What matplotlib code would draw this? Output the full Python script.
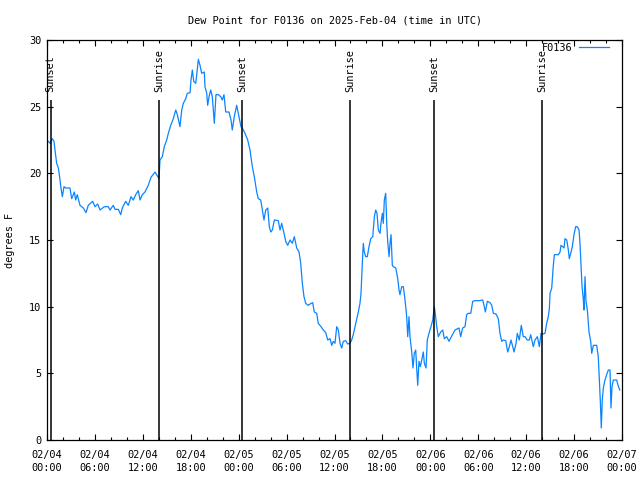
import matplotlib
matplotlib.use("Agg")
import matplotlib.pyplot as plt
from matplotlib.ticker import MultipleLocator

plt.rcParams['font.family'] = ['DejaVu Sans Mono']
plt.rcParams['font.size'] = 7.4

# hours since 2025-02-04 00:00 UTC
hours = [0.16, 0.38, 0.66, 0.88, 1.00, 1.21, 1.42, 1.63, 1.75, 1.92, 2.13, 2.34, 2.88, 3.09, 3.42,
         3.59, 3.79, 4.01, 4.13, 4.55, 4.88, 5.17, 5.72, 6.01, 6.35, 6.64, 7.18, 7.68, 7.89, 8.30,
         8.52, 8.93, 9.23, 9.43, 9.85, 10.18, 10.52, 10.81, 11.11, 11.43, 11.65, 11.93, 12.27, 12.68,
         13.02, 13.52, 13.86, 14.02, 14.15, 14.44, 14.69, 14.99, 15.19, 15.49, 15.82, 16.12, 16.32,
         16.65, 16.87, 17.07, 17.37, 17.57, 17.91, 18.03, 18.20, 18.37, 18.62, 18.75, 18.95, 19.16,
         19.37, 19.70, 19.78, 20.00, 20.12, 20.29, 20.50, 20.70, 20.95, 21.16, 21.45, 21.75, 21.95,
         22.16, 22.38, 22.79, 23.04, 23.20, 23.45, 23.75, 24.04, 24.29, 24.46, 24.79, 25.13, 25.42,
         25.71, 25.96, 26.26, 26.46, 26.76, 26.96, 27.17, 27.39, 27.64, 27.84, 28.02, 28.22, 28.47,
         28.96, 29.18, 29.39, 29.68, 29.89, 30.14, 30.43, 30.72, 30.97, 31.27, 31.56, 31.77, 31.97,
         32.18, 32.39, 32.72, 33.06, 33.27, 33.47, 33.77, 33.97, 34.31, 34.60, 34.90, 35.15, 35.44,
         35.65, 35.85, 36.06, 36.28, 36.48, 36.69, 36.90, 37.10, 37.40, 37.65, 37.94, 38.15, 38.35,
         38.57, 38.78, 38.98, 39.19, 39.32, 39.41, 39.53, 39.61, 39.73, 39.91, 40.11, 40.32, 40.54,
         40.79, 40.99, 41.16, 41.32, 41.49, 41.70, 41.82, 41.99, 42.11, 42.24, 42.41, 42.54, 42.66,
         42.83, 42.95, 43.08, 43.24, 43.37, 43.67, 43.92, 44.08, 44.20, 44.42, 44.62, 44.83, 45.04,
         45.17, 45.33, 45.45, 45.67, 45.83, 45.99, 46.17, 46.29, 46.42, 46.58, 46.75, 46.92, 47.12,
         47.25, 47.46, 47.62, 47.83, 48.08, 48.30, 48.50, 48.62, 48.80, 49.00, 49.30, 49.55, 49.75,
         50.05, 50.34, 50.68, 51.09, 51.59, 51.80, 52.05, 52.34, 52.55, 52.75, 53.06, 53.31, 53.59,
         54.13, 54.56, 54.72, 54.89, 55.14, 55.47, 55.69, 55.89, 56.22, 56.51, 56.72, 56.94, 57.14,
         57.44, 57.69, 57.89, 58.10, 58.32, 58.48, 58.73, 58.89, 59.14, 59.39, 59.64, 59.85, 60.14,
         60.39, 60.57, 60.89, 61.11, 61.40, 61.65, 61.86, 62.15, 62.36, 62.57, 62.77, 62.90, 62.99,
         63.20, 63.40, 63.53, 64.03, 64.24, 64.36, 64.57, 64.74, 64.86, 65.08, 65.28, 65.40, 65.58,
         65.78, 65.99, 66.20, 66.40, 66.62, 66.74, 66.87, 66.99, 67.16, 67.24, 67.37, 67.49, 67.66,
         67.87, 68.08, 68.21, 68.41, 68.83, 69.03, 69.16, 69.28, 69.41, 69.53, 69.66, 69.87, 70.08,
         70.29, 70.50, 70.62, 70.75, 70.91, 71.34, 71.50, 71.72]

dew_f = [22.4, 22.25, 22.6, 22.4, 21.75, 20.75, 20.4, 19.5, 18.9, 18.25, 19.0, 18.9, 18.9, 18.1, 18.6,
         18.0, 18.4, 17.9, 17.6, 17.4, 17.05, 17.6, 17.9, 17.5, 17.7, 17.25, 17.5, 17.5, 17.25, 17.6,
         17.3, 17.3, 16.9, 17.4, 17.9, 17.6, 18.25, 18.0, 18.4, 18.7, 18.0, 18.4, 18.6, 19.1,
         19.7, 20.1, 19.75, 19.6, 21.0, 21.25, 22.0, 22.5, 23.0, 23.6, 24.1, 24.75, 24.4,
         23.5, 24.75, 25.25, 25.6, 26.0, 26.05, 27.0, 27.75, 26.9, 26.75, 27.4, 28.55, 28.1,
         27.5, 27.6, 26.5, 26.0, 25.1, 25.75, 26.25, 25.75, 23.75, 25.9, 25.9, 25.75, 25.5,
         25.9, 24.6, 24.6, 24.0, 23.25, 24.25, 25.1, 24.25, 23.5, 23.4, 23.0, 22.5, 21.75,
         20.5, 19.75, 18.6, 18.1, 18.0, 17.25, 16.5, 17.25, 17.4, 16.0, 15.6, 15.75, 16.5,
         16.45, 15.75, 16.25, 15.5, 14.9, 14.6, 15.0, 14.75, 15.25, 14.4, 14.1, 13.25, 11.75,
         10.75, 10.25, 10.1, 10.25, 10.3, 9.6, 9.5, 8.75, 8.5, 8.25, 8.05, 7.5, 7.6,
         7.1, 7.4, 7.25, 8.5, 8.25, 7.25, 6.9, 7.4, 7.45, 7.2, 7.25, 7.5, 7.9,
         8.5, 9.1, 9.6, 10.25, 11.0, 12.25, 13.9, 14.75, 14.1, 13.75, 13.75, 14.5, 15.1,
         15.25, 16.75, 17.25, 17.0, 15.75, 15.5, 16.25, 17.0, 16.25, 18.0, 18.5, 16.25, 14.9,
         13.75, 14.75, 15.4, 13.1, 13.0, 12.9, 12.1, 11.25, 10.9, 11.5, 11.5, 10.5, 9.25,
         7.75, 9.25, 7.75, 6.6, 5.4, 6.5, 6.75, 5.4, 4.1, 5.9, 5.5, 6.0, 6.6,
         5.75, 5.4, 7.5, 8.0, 8.5, 9.0, 10.0, 9.5, 8.5, 7.75, 8.1, 8.25, 7.6,
         7.75, 7.4, 7.8, 8.25, 8.4, 7.75, 8.4, 8.5, 9.4, 9.5, 9.5, 10.4, 10.45,
         10.45, 10.5, 10.1, 9.6, 10.4, 10.3, 10.1, 9.5, 9.45, 9.1, 8.0, 7.4, 7.5,
         7.45, 6.6, 7.0, 7.5, 7.0, 6.6, 7.25, 8.0, 7.5, 8.6, 7.75, 7.75, 7.5,
         7.5, 7.9, 7.0, 7.5, 7.75, 7.0, 8.0, 7.95, 8.0, 8.75, 9.25, 9.8, 11.0,
         11.4, 13.1, 13.9, 13.9, 14.1, 14.6, 14.5, 14.4, 15.1, 15.0, 14.25, 13.6, 14.0,
         14.5, 15.4, 16.0, 16.0, 15.75, 14.75, 13.1, 11.6, 10.5, 9.75, 12.25, 10.4, 9.75,
         8.1, 7.4, 6.5, 7.1, 7.1, 6.25, 4.6, 3.0, 0.9, 3.0, 3.9, 4.5, 4.9,
         5.25, 5.25, 2.4, 4.0, 4.5, 4.5, 4.1, 3.75]

event_hours = [0.46, 14.02, 24.45, 37.94, 48.50, 62.02]
event_names = ["Sunset", "Sunrise", "Sunset", "Sunrise", "Sunset", "Sunrise"]

tick_hours = list(range(0, 73, 6))
tick_labels = ["02/04\n00:00", "02/04\n06:00", "02/04\n12:00", "02/04\n18:00",
               "02/05\n00:00", "02/05\n06:00", "02/05\n12:00", "02/05\n18:00",
               "02/06\n00:00", "02/06\n06:00", "02/06\n12:00", "02/06\n18:00",
               "02/07\n00:00"]

fig = plt.figure(figsize=(6.4, 4.8), dpi=100)
ax = fig.add_axes([47 / 640, 40 / 480, 575 / 640, 400 / 480])

ax.plot(hours, dew_f, color="#0a84ff", linewidth=0.9, label="F0136")

for h, name in zip(event_hours, event_names):
    ax.vlines(h, 0, 25.5, color="black", linewidth=1.1)
    ax.text(h, 26.1, name, rotation=90, ha="center", va="bottom", fontsize=7.4)

ax.set_xlim(0, 72)
ax.set_ylim(0, 30)
ax.set_xticks(tick_hours)
ax.set_xticklabels(tick_labels, linespacing=1.45)
ax.xaxis.set_minor_locator(MultipleLocator(2))
ax.yaxis.set_major_locator(MultipleLocator(5))
ax.tick_params(which="both", direction="in", top=True, right=True, width=0.8)
ax.tick_params(which="major", length=4.5, pad=4)
ax.tick_params(axis="x", which="major", pad=7)
ax.tick_params(which="minor", length=2.5)
for s in ax.spines.values():
    s.set_linewidth(0.9)

ax.set_ylabel("degrees F", labelpad=10)
ax.set_title("Dew Point for F0136 on 2025-Feb-04 (time in UTC)", pad=12, fontsize=7.4)

ax.legend(loc="upper right", bbox_to_anchor=(1 - 10 / 575, 1), frameon=False,
          markerfirst=False, handlelength=2.9, borderaxespad=0.1, borderpad=0.2,
          handletextpad=0.6, fontsize=7.4)

fig.savefig("out.png", dpi=100)
